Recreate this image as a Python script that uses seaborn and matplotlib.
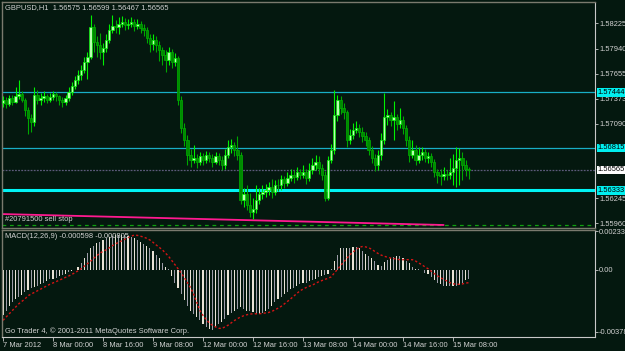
import numpy as np
import pandas as pd
import matplotlib
matplotlib.use("Agg")
import matplotlib.pyplot as plt
import matplotlib.transforms as mtrans
import seaborn as sns

# ---------------- data ----------------
title_text = "GBPUSD,H1  1.56575 1.56599 1.56467 1.56565"
macd_title = "MACD(12,26,9) -0.000598 -0.000805"
order_label = "#20791500 sell stop"
footer_text = "Go Trader 4, \u00a9 2001-2011 MetaQuotes Software Corp."

first_open = 1.5732
closes = [1.5736, 1.5731, 1.5738, 1.5734, 1.5740, 1.5743, 1.5736, 1.5725,
          1.5715, 1.5711, 1.5742, 1.5736, 1.5738, 1.5740, 1.5736, 1.5739,
          1.5743, 1.5740, 1.5736, 1.5734, 1.5738, 1.5745, 1.5752, 1.5758,
          1.5764, 1.5770, 1.5779, 1.5785, 1.5818, 1.5802, 1.5798, 1.5790,
          1.5795, 1.5804, 1.5815, 1.5820, 1.5818, 1.5822, 1.5824, 1.5821,
          1.5822, 1.5824, 1.5820, 1.5822, 1.5817, 1.5815, 1.5806, 1.5799,
          1.5804, 1.5798, 1.5792, 1.5787, 1.5781, 1.5790, 1.5779, 1.5783,
          1.5736, 1.5704, 1.5691, 1.5674, 1.5668, 1.5670, 1.5665, 1.5672,
          1.5668, 1.5673, 1.5670, 1.5666, 1.5672, 1.5668, 1.5662, 1.5674,
          1.5682, 1.5685, 1.5679, 1.5674, 1.5623, 1.5629, 1.5617, 1.5609,
          1.5612, 1.5623, 1.5629, 1.5632, 1.5634, 1.5637, 1.5632, 1.5640,
          1.5639, 1.5646, 1.5642, 1.5648, 1.5651, 1.5649, 1.5654, 1.5651,
          1.5654, 1.5648, 1.5657, 1.5662, 1.5666, 1.5659, 1.5651, 1.5625,
          1.5668, 1.5679, 1.5719, 1.5736, 1.5727, 1.5722, 1.5691, 1.5696,
          1.5702, 1.5704, 1.5700, 1.5695, 1.5691, 1.5679, 1.5670, 1.5662,
          1.5674, 1.5691, 1.5716, 1.5719, 1.5713, 1.5716, 1.5709, 1.5713,
          1.5704, 1.5691, 1.5674, 1.5679, 1.5668, 1.5674, 1.5677, 1.5670,
          1.5672, 1.5666, 1.5654, 1.5651, 1.5650, 1.5652, 1.5651, 1.5654,
          1.5659, 1.5668, 1.5670, 1.5662, 1.56575, 1.56565]
highs = [1.5740, 1.5739, 1.5742, 1.5741, 1.5750, 1.5758, 1.5746, 1.5738,
         1.5728, 1.5720, 1.5750, 1.5747, 1.5744, 1.5746, 1.5743, 1.5744,
         1.5746, 1.5745, 1.5742, 1.5739, 1.5741, 1.5750, 1.5756, 1.5763,
         1.5770, 1.5776, 1.5784, 1.5790, 1.5832, 1.5822, 1.5808, 1.5812,
         1.5800, 1.5810, 1.5822, 1.5832, 1.5826, 1.5830, 1.5831, 1.5829,
         1.5828, 1.5830, 1.5827, 1.5827, 1.5825, 1.5822, 1.5818, 1.5810,
         1.5810, 1.5808, 1.5803, 1.5796, 1.5792, 1.5796, 1.5794, 1.5789,
         1.5786, 1.5740, 1.5710, 1.5696, 1.5680, 1.5685, 1.5675, 1.5677,
         1.5676, 1.5678, 1.5677, 1.5675, 1.5677, 1.5676, 1.5672, 1.5680,
         1.5690, 1.5692, 1.5688, 1.5695, 1.5677, 1.5636, 1.5640, 1.5630,
         1.5625, 1.5640, 1.5636, 1.5640, 1.5641, 1.5643, 1.5646, 1.5645,
         1.5646, 1.5651, 1.5650, 1.5654, 1.5658, 1.5656, 1.5660, 1.5658,
         1.5662, 1.5658, 1.5664, 1.5670, 1.5674, 1.5672, 1.5663, 1.5655,
         1.5672, 1.5686, 1.5747, 1.5742, 1.5740, 1.5732, 1.5725, 1.5703,
         1.5710, 1.5712, 1.5709, 1.5705, 1.5699, 1.5694, 1.5684, 1.5675,
         1.5679, 1.5698, 1.5744, 1.5726, 1.5722, 1.5735, 1.5720, 1.5727,
         1.5718, 1.5708, 1.5695, 1.5690, 1.5685, 1.5682, 1.5683, 1.5680,
         1.5677, 1.5676, 1.5669, 1.5658, 1.5658, 1.5660, 1.5657, 1.5670,
         1.5675, 1.5683, 1.5681, 1.5677, 1.5668, 1.56599]
lows = [1.5728, 1.5727, 1.5729, 1.5730, 1.5732, 1.5737, 1.5733, 1.5718,
        1.5697, 1.5700, 1.5706, 1.5731, 1.5730, 1.5734, 1.5732, 1.5733,
        1.5736, 1.5735, 1.5730, 1.5728, 1.5730, 1.5735, 1.5742, 1.5748,
        1.5754, 1.5758, 1.5766, 1.5760, 1.5782, 1.5790, 1.5785, 1.5782,
        1.5775, 1.5790, 1.5800, 1.5812, 1.5812, 1.5810, 1.5818, 1.5815,
        1.5816, 1.5818, 1.5814, 1.5816, 1.5812, 1.5808, 1.5800, 1.5790,
        1.5792, 1.5790, 1.5780, 1.5775, 1.5768, 1.5776, 1.5772, 1.5774,
        1.5730, 1.5698, 1.5684, 1.5662, 1.5660, 1.5664, 1.5659, 1.5662,
        1.5662, 1.5664, 1.5665, 1.5660, 1.5663, 1.5662, 1.5656, 1.5658,
        1.5670, 1.5676, 1.5672, 1.5668, 1.5618, 1.5615, 1.5611, 1.5603,
        1.5601, 1.5608, 1.5618, 1.5624, 1.5626, 1.5628, 1.5625, 1.5628,
        1.5633, 1.5634, 1.5636, 1.5638, 1.5644, 1.5642, 1.5645, 1.5646,
        1.5647, 1.5641, 1.5644, 1.5652, 1.5657, 1.5652, 1.5645, 1.5621,
        1.5622, 1.5664, 1.5675, 1.5712, 1.5720, 1.5714, 1.5682, 1.5686,
        1.5692, 1.5698, 1.5694, 1.5688, 1.5684, 1.5674, 1.5664, 1.5655,
        1.5656, 1.5668, 1.5686, 1.5708, 1.5706, 1.5690, 1.5702, 1.5704,
        1.5697, 1.5684, 1.5665, 1.5670, 1.5662, 1.5664, 1.5668, 1.5665,
        1.5664, 1.5660, 1.5649, 1.5642, 1.5640, 1.5645, 1.5645, 1.5646,
        1.5640, 1.5637, 1.5640, 1.5645, 1.5650, 1.56467]

macd_main = [-0.00280, -0.00250, -0.00220, -0.00200, -0.00180, -0.00165, -0.00155, -0.00140, -0.00125, -0.00115,
             -0.00105, -0.00098, -0.00090, -0.00080, -0.00070, -0.00060, -0.00055, -0.00050, -0.00042, -0.00035,
             -0.00025, -0.00015, -0.00008, -0.00002, 0.00015, 0.00040, 0.00070, 0.00100, 0.00130, 0.00145,
             0.00160, 0.00170, 0.00180, 0.00190, 0.00198, 0.00203, 0.00208, 0.00210, 0.00212, 0.00210,
             0.00205, 0.00200, 0.00190, 0.00180, 0.00170, 0.00158, 0.00145, 0.00130, 0.00110, 0.00090,
             0.00070, 0.00040, 0.00015, 0.00003, -0.00040, -0.00080, -0.00110, -0.00150, -0.00185, -0.00220,
             -0.00250, -0.00270, -0.00290, -0.00310, -0.00330, -0.00350, -0.00365, -0.00370, -0.00350, -0.00335,
             -0.00320, -0.00300, -0.00280, -0.00265, -0.00250, -0.00240, -0.00230, -0.00240, -0.00250, -0.00255,
             -0.00260, -0.00270, -0.00270, -0.00265, -0.00250, -0.00240, -0.00220, -0.00200, -0.00180, -0.00165,
             -0.00150, -0.00135, -0.00120, -0.00110, -0.00100, -0.00090, -0.00085, -0.00080, -0.00072, -0.00065,
             -0.00055, -0.00045, -0.00038, -0.00032, -0.00025, 0.00005, 0.00050, 0.00090, 0.00130, 0.00132,
             0.00130, 0.00130, 0.00135, 0.00140, 0.00130, 0.00110, 0.00095, 0.00085, 0.00070, 0.00050,
             0.00030, 0.00020, 0.00045, 0.00060, 0.00070, 0.00075, 0.00080, 0.00080, 0.00070, 0.00050,
             0.00040, 0.00015, 0.00005, 0.00002, -0.00005, -0.00020, -0.00030, -0.00045, -0.00065, -0.00080,
             -0.00090, -0.00098, -0.00100, -0.00102, -0.00102, -0.00100, -0.00092, -0.00080, -0.00065, -0.000598]
macd_signal = [-0.00310, -0.00290, -0.00270, -0.00250, -0.00230, -0.00210, -0.00195, -0.00180, -0.00160, -0.00150,
               -0.00140, -0.00130, -0.00120, -0.00110, -0.00100, -0.00090, -0.00082, -0.00074, -0.00065, -0.00057,
               -0.00048, -0.00040, -0.00030, -0.00020, -0.00008, 0.00005, 0.00020, 0.00035, 0.00050, 0.00068,
               0.00084, 0.00100, 0.00110, 0.00120, 0.00132, 0.00145, 0.00156, 0.00166, 0.00175, 0.00185,
               0.00194, 0.00203, 0.00210, 0.00208, 0.00203, 0.00198, 0.00190, 0.00180, 0.00166, 0.00150,
               0.00135, 0.00120, 0.00100, 0.00080, 0.00055, 0.00030, 0.00005, -0.00020, -0.00050, -0.00080,
               -0.00110, -0.00150, -0.00200, -0.00250, -0.00280, -0.00305, -0.00325, -0.00340, -0.00350, -0.00358,
               -0.00360, -0.00350, -0.00340, -0.00326, -0.00312, -0.00300, -0.00290, -0.00282, -0.00276, -0.00272,
               -0.00270, -0.00270, -0.00270, -0.00268, -0.00265, -0.00262, -0.00256, -0.00246, -0.00236, -0.00225,
               -0.00210, -0.00195, -0.00180, -0.00163, -0.00147, -0.00130, -0.00120, -0.00110, -0.00102, -0.00095,
               -0.00085, -0.00075, -0.00068, -0.00060, -0.00054, -0.00045, -0.00022, 0.00000, 0.00023, 0.00045,
               0.00068, 0.00090, 0.00106, 0.00122, 0.00136, 0.00140, 0.00138, 0.00133, 0.00123, 0.00110,
               0.00098, 0.00088, 0.00081, 0.00075, 0.00070, 0.00067, 0.00063, 0.00060, 0.00060, 0.00060,
               0.00060, 0.00060, 0.00052, 0.00040, 0.00030, 0.00016, 0.00005, -0.00010, -0.00025, -0.00038,
               -0.00050, -0.00060, -0.00070, -0.00080, -0.00087, -0.00090, -0.00090, -0.00088, -0.00083, -0.000805]

time_tick_bars = [0, 16, 32, 48, 64, 80, 96, 112, 128, 144]
time_tick_labels = ["7 Mar 2012", "8 Mar 00:00", "8 Mar 16:00", "9 Mar 08:00", "12 Mar 00:00",
                    "12 Mar 16:00", "13 Mar 08:00", "14 Mar 00:00", "14 Mar 16:00", "15 Mar 08:00"]
price_ticks = [1.58225, 1.57940, 1.57655, 1.57373, 1.57090, 1.56245, 1.55960]
macd_ticks = [0.002337, 0.0, -0.003786]
macd_tick_labels = ["0.002337", "0.00", "-0.003786"]

level_thin = [1.57444, 1.56815]
level_thick = 1.56333
bid_price = 1.56565
sell_stop_price = 1.55940
trend_bars = [-0.3, 141]
trend_prices = [1.56066, 1.55942]

# ---------------- style ----------------
BG = "#04180f"
TXT = "#d2d2d2"
FS = 5.4
sns.set_theme(style="dark")
plt.rcParams["font.family"] = ["Liberation Sans", "DejaVu Sans"]
plt.rcParams["axes.grid"] = False

W, H = 625, 351
fig = plt.figure(figsize=(W / 100, H / 100), dpi=100, facecolor=BG)
L, R = 2, 595
ax1 = fig.add_axes([L / W, 1 - 228 / H, (R - L) / W, 226 / H], facecolor=BG)
ax2 = fig.add_axes([L / W, 1 - 337 / H, (R - L) / W, 107 / H], facecolor=BG)

n = len(closes)
idx = np.arange(n)
opens = np.array([first_open] + closes[:-1])
c = np.array(closes)
bull = c >= opens

# candles
wick_col = np.where(bull, "#00f000", "#00a800")
ax1.vlines(idx, lows, highs, colors=wick_col, lw=0.8, zorder=3)
body_bottom = np.minimum(opens, c)
body_h = np.abs(c - opens)
ax1.bar(idx, body_h, bottom=body_bottom, width=0.78,
        color=np.where(bull, "#b8ffb0", "#008a00"),
        edgecolor=np.where(bull, "#00f000", "#00b000"), linewidth=0.5, zorder=4)

# levels
for lv in level_thin:
    ax1.axhline(lv, color="#18aec6", lw=0.9, zorder=2)
ax1.axhline(level_thick, color="#00f4f4", lw=2.2, zorder=2)
ax1.axhline(bid_price, color="#5c5a7a", lw=0.9, ls=(0, (1.5, 1)), zorder=2)
ax1.axhline(sell_stop_price, color="#10a010", lw=0.9, ls=(0, (3, 3)), zorder=2)
ax1.plot(trend_bars, trend_prices, color="#ff1a90", lw=1.3, zorder=2)

xmin, xmax = -0.32, (R - 3) / 3.125
ax1.set_xlim(xmin, xmax)
ax1.set_ylim(1.55908, 1.58468)
ax1.set_xticks([])
ax1.yaxis.tick_right()
ax1.set_yticks(price_ticks)
ax1.set_yticklabels([f"{p:.5f}" for p in price_ticks])
ax1.tick_params(axis="y", colors="#c8c8c8", labelcolor=TXT, labelsize=FS,
                length=2, width=0.6, pad=1.0, direction="out", right=True, left=False)

for sp in ["top", "left", "bottom"]:
    ax1.spines[sp].set_color("#7a7a6e")
    ax1.spines[sp].set_linewidth(1.0)
ax1.spines["right"].set_color("#c8c8c8")
ax1.spines["right"].set_linewidth(0.8)

# price label boxes on right axis
btrans = mtrans.blended_transform_factory(ax1.transAxes, ax1.transData)
for lv, fc in [(level_thin[0], "#00f0f0"), (level_thin[1], "#00f0f0"),
               (bid_price, "#ffffff"), (level_thick, "#00f0f0")]:
    ax1.text(1.0 + 2.5 / (R - L), lv, f"{lv:.5f}", transform=btrans, ha="left", va="center",
             fontsize=FS, color="#000000", clip_on=False, zorder=10,
             bbox=dict(boxstyle="square,pad=0.12", fc=fc, ec="none"))

# MACD
df = pd.DataFrame({"bar": idx, "macd": macd_main, "shade": idx % 2})
sns.barplot(data=df, x="bar", y="macd", hue="shade", palette=["#ece4d2", "#9a9aaa"],
            native_scale=True, dodge=False, width=0.38, linewidth=0, legend=False,
            errorbar=None, ax=ax2)
sns.lineplot(x=idx, y=macd_signal, color="#d41414", lw=1.0, ls=(0, (1.6, 1.6)), ax=ax2)

ax2.set_xlim(xmin, xmax)
ax2.set_ylim(-0.004116, 0.002409)
ax2.set_xlabel("")
ax2.set_ylabel("")
ax2.yaxis.tick_right()
ax2.set_yticks(macd_ticks)
ax2.set_yticklabels(macd_tick_labels)
ax2.set_xticks(time_tick_bars)
ax2.set_xticklabels(time_tick_labels)
for lbl in ax2.get_xticklabels():
    lbl.set_ha("left")
ax2.tick_params(axis="y", colors="#c8c8c8", labelcolor=TXT, labelsize=FS,
                length=2, width=0.6, pad=1.0, direction="out", right=True, left=False)
ax2.tick_params(axis="x", colors="#c8c8c8", labelcolor=TXT, labelsize=FS,
                length=3, width=0.6, pad=0.5, direction="out", bottom=True)
for sp in ["top", "left"]:
    ax2.spines[sp].set_color("#7a7a6e")
    ax2.spines[sp].set_linewidth(1.0)
for sp in ["right", "bottom"]:
    ax2.spines[sp].set_color("#c8c8c8")
    ax2.spines[sp].set_linewidth(0.8)

# overlay texts
fig.text(5 / W, 1 - 8 / H, title_text, fontsize=FS, color=TXT, ha="left", va="center")
fig.text(5 / W, 1 - 220 / H, order_label, fontsize=FS, color=TXT, ha="left", va="center")
fig.text(5 / W, 1 - 236 / H, macd_title, fontsize=FS, color=TXT, ha="left", va="center")
fig.text(5 / W, 1 - 331.5 / H, footer_text, fontsize=FS, color=TXT, ha="left", va="center")

fig.savefig("out.png", dpi=100, facecolor=BG)
